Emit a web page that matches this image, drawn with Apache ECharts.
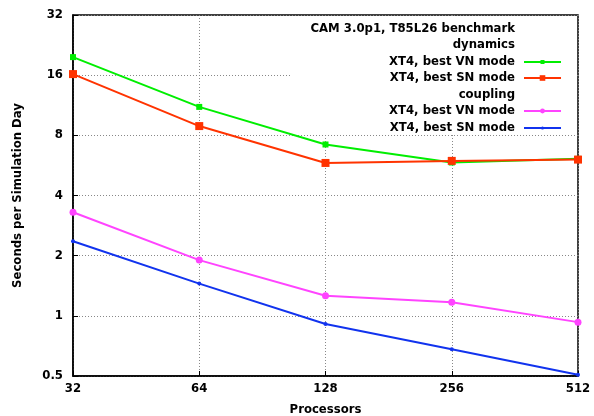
<!DOCTYPE html>
<html>
<head>
<meta charset="utf-8">
<script src="https://cdn.jsdelivr.net/npm/echarts@6/dist/echarts.min.js"></script>
<style>
  html, body { margin: 0; padding: 0; background: #fff; }
  #chart { width: 594px; height: 416px; }
</style>
</head>
<body>
<div id="chart"></div>
<script>
// processor counts and timings (seconds per simulated day)
const processors = [32, 64, 128, 256, 512]
const dynVN = [19.7, 11.1, 7.2, 5.85, 6.1]
const dynSN = [16.2, 8.9, 5.82, 5.96, 6.05]
const cplVN = [3.3, 1.9, 1.26, 1.17, 0.93]
const cplSN = [2.36, 1.45, 0.91, 0.68, 0.507]

const font = 'DejaVu Sans, sans-serif'
const bold = { fontFamily: font, fontWeight: 'bold', fontSize: 11.7, color: '#000' }

function pairs(vals) {
    return processors.map((p, i) => [p, vals[i]])
}

const seriesDefs = [
    { id: 'dynVN', label: 'XT4, best VN mode', color: '#00ee00', symbol: 'rect', size: 6, vals: dynVN, row: 61, icon: 5 },
    { id: 'dynSN', label: 'XT4, best SN mode', color: '#ff3300', symbol: 'rect', size: 8, vals: dynSN, row: 77, icon: 7 },
    { id: 'cplVN', label: 'XT4, best VN mode', color: '#ff44ff', symbol: 'circle', size: 7, vals: cplVN, row: 110, icon: 6 },
    { id: 'cplSN', label: 'XT4, best SN mode', color: '#1133ee', symbol: 'circle', size: 4, vals: cplSN, row: 127, icon: 4 },
]

let chart = echarts.init(document.getElementById('chart'))

const axisCommon = {
    type: 'log',
    logBase: 2,
    axisLine: { show: true, lineStyle: { color: '#000', width: 1.5 } },
    axisTick: { show: true, inside: true, length: 5, lineStyle: { color: '#000' } },
    minorTick: { show: false },
}

chart.setOption({
    animation: false,
    backgroundColor: '#fff',
    grid: {
        left: 73, right: 16, top: 15, bottom: 40,
        outerBoundsMode: 'none',
        containLabel: false,
        show: true, borderColor: '#000', borderWidth: 1.5,
    },
    title: [
        { text: 'CAM 3.0p1, T85L26 benchmark', right: 79, top: 23, padding: 0, textStyle: bold },
        { text: 'dynamics', right: 79, top: 39, padding: 0, textStyle: bold },
        { text: 'coupling', right: 79, top: 89, padding: 0, textStyle: bold },
    ],
    legend: seriesDefs.map((s) => ({
        data: [s.id],
        orient: 'vertical',
        align: 'right',
        right: 32,
        top: s.row - 5,
        padding: 0,
        itemWidth: 37,
        itemHeight: s.icon,
        selectedMode: false,
        // trailing space widens the gap between text and sample line
        formatter: () => s.label + ' ',
        textStyle: bold,
    })),
    graphic: [{
        type: 'rect',
        z: 1,
        shape: { x: 290, y: 17, width: 286, height: 117 },
        style: { fill: '#fff' },
    }],
    xAxis: {
        ...axisCommon,
        min: 32,
        max: 512,
        name: 'Processors',
        nameLocation: 'middle',
        nameGap: 28,
        nameTextStyle: bold,
        axisLabel: { ...bold, margin: 7 },
        splitLine: { show: true, lineStyle: { color: '#888', type: [1, 2], width: 1 } },
    },
    yAxis: {
        ...axisCommon,
        min: 0.5,
        max: 32,
        interval: 1,
        name: 'Seconds per Simulation Day',
        nameLocation: 'middle',
        nameGap: 49,
        nameTextStyle: bold,
        axisLabel: { ...bold, margin: 10, formatter: (v) => String(v) },
        splitLine: { show: true, lineStyle: { color: '#888', type: [1, 2], width: 1 } },
    },
    series: seriesDefs.map((s) => ({
        name: s.id,
        type: 'line',
        data: pairs(s.vals),
        symbol: s.symbol,
        symbolSize: s.size,
        showAllSymbol: true,
        color: s.color,
        lineStyle: { width: 2, color: s.color },
        itemStyle: { color: s.color },
    })),
})
</script>
</body>
</html>
